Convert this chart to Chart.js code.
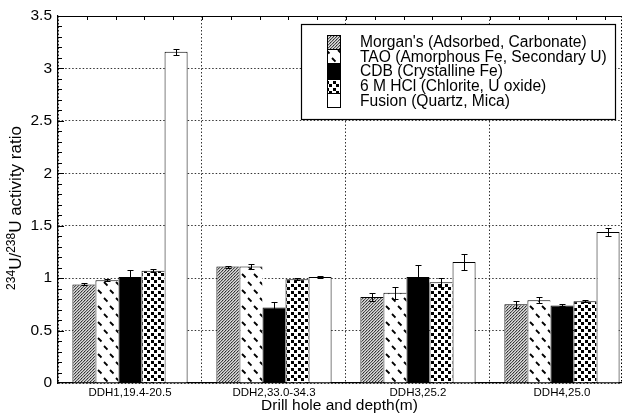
<!DOCTYPE html>
<html>
<head>
<meta charset="utf-8">
<script src="https://cdn.jsdelivr.net/npm/chart.js@4.4.0/dist/chart.umd.min.js"></script>
<style>
  html, body { margin: 0; padding: 0; background: #fff; overflow: hidden; }
  canvas { display: block; }
</style>
</head>
<body>
<canvas id="c" width="628" height="418"></canvas>
<script>
// Drill holes (sample depth range in metres)
const holes = ['DDH1,19.4-20.5', 'DDH2,33.0-34.3', 'DDH3,25.2', 'DDH4,25.0'];

// Sequential extraction steps
const seriesNames = [
  "Morgan's (Adsorbed, Carbonate)",
  'TAO (Amorphous Fe, Secondary U)',
  'CDB (Crystalline Fe)',
  '6 M HCl (Chlorite, U oxide)',
  'Fusion (Quartz, Mica)'
];

// 234U/238U activity ratios and 1-sigma uncertainties, per drill hole
const morgan    = [0.94, 1.11, 0.82, 0.75];
const morganErr = [0.01, 0.01, 0.04, 0.03];
const tao       = [0.98, 1.11, 0.86, 0.79];
const taoErr    = [0.01, 0.025, 0.06, 0.03];
const cdb       = [1.01, 0.72, 1.01, 0.74];
const cdbErr    = [0.065, 0.055, 0.12, 0.01];
const hcl       = [1.07, 0.99, 0.96, 0.78];
const hclErr    = [0.015, 0.01, 0.04, 0.01];
const fusion    = [3.16, 1.01, 1.155, 1.44];
const fusionErr = [0.03, 0.01, 0.075, 0.04];

const yTicks = [0, 0.5, 1, 1.5, 2, 2.5, 3, 3.5];

const FONT = "'Liberation Sans', Arial, Helvetica, sans-serif";
const canvas = document.getElementById('c');
const ctx = canvas.getContext('2d');

// Small repeating fills for the monochrome bars
function makePattern(w, h, paint) {
  const t = document.createElement('canvas');
  t.width = w; t.height = h;
  const g = t.getContext('2d');
  g.fillStyle = '#fff'; g.fillRect(0, 0, w, h);
  g.fillStyle = '#000'; g.strokeStyle = '#000';
  paint(g);
  return ctx.createPattern(t, 'repeat');
}
const stipple = makePattern(3, 3, g => {
  const shades = [
    ['#2e2e2e', '#b0b0b0', '#e0e0e0'],
    ['#a8a8a8', '#e0e0e0', '#4a4a4a'],
    ['#d8d8d8', '#585858', '#b0b0b0']
  ];
  for (let y = 0; y < 3; y++) for (let x = 0; x < 3; x++) {
    g.fillStyle = shades[y][x];
    g.fillRect(x, y, 1, 1);
  }
});
const dashFill = makePattern(12, 16, g => {
  g.lineWidth = 1.8;
  g.beginPath();
  g.moveTo(2, 2); g.lineTo(5.5, 5.5);
  g.moveTo(8, 10); g.lineTo(11.5, 13.5);
  g.stroke();
});
const blockDots = makePattern(7, 7, g => {
  g.fillRect(0, 0, 3, 3);
  g.fillRect(4, 4, 3, 3);
});

const series = [
  { values: morgan, errors: morganErr, fill: stipple },
  { values: tao,    errors: taoErr,    fill: dashFill },
  { values: cdb,    errors: cdbErr,    fill: '#000' },
  { values: hcl,    errors: hclErr,    fill: blockDots },
  { values: fusion, errors: fusionErr, fill: '#fff' }
];

// Frame: solid top edge, dotted right edge, inward minor ticks
const framePlugin = {
  id: 'frame',
  afterDatasetsDraw(chart) {
    const c = chart.ctx, a = chart.chartArea, xs = chart.scales.x, ys = chart.scales.y;
    c.save();
    c.strokeStyle = '#000';
    c.lineWidth = 1.2;
    c.beginPath(); c.moveTo(a.left, a.top + 0.5); c.lineTo(a.right, a.top + 0.5); c.stroke();
    c.setLineDash([1.5, 2]);
    c.lineWidth = 1;
    c.beginPath(); c.moveTo(a.right + 0.5, a.top); c.lineTo(a.right + 0.5, a.bottom); c.stroke();
    c.setLineDash([]);
    c.beginPath();
    for (let k = 1; k * 0.2 < xs.max; k++) {
      const px = Math.round(xs.getPixelForValue(k * 0.2)) + 0.5;
      c.moveTo(px, a.top); c.lineTo(px, a.top + 4);
    }
    for (let k = 1; k < 35; k++) {
      const py = Math.round(ys.getPixelForValue(k / 10)) + 0.5;
      c.moveTo(a.left, py); c.lineTo(a.left + (k % 5 === 0 ? 6 : 4), py);
    }
    c.stroke();
    c.restore();
  }
};

// Uncertainty whiskers on each bar
const errorBars = {
  id: 'errorBars',
  afterDatasetsDraw(chart) {
    const c = chart.ctx, ys = chart.scales.y;
    c.save();
    c.strokeStyle = '#000';
    c.lineWidth = 1;
    chart.data.datasets.forEach((ds, di) => {
      chart.getDatasetMeta(di).data.forEach((bar, i) => {
        const v = ds.data[i].y, e = ds.errors[i];
        const x = Math.round(bar.x) + 0.5;
        const top = Math.round(ys.getPixelForValue(v + e)) + 0.5;
        const bot = Math.round(ys.getPixelForValue(v - e)) + 0.5;
        c.beginPath();
        c.moveTo(x, top); c.lineTo(x, bot);
        c.moveTo(x - 3, top); c.lineTo(x + 3, top);
        c.moveTo(x - 3, bot); c.lineTo(x + 3, bot);
        c.stroke();
      });
    });
    c.restore();
  }
};

// Boxed legend inside the plot, upper right
const boxLegend = {
  id: 'boxLegend',
  afterDraw(chart) {
    const c = chart.ctx;
    const bx = 301.5, by = 24.5, bw = 314, bh = 95;
    c.save();
    c.fillStyle = '#fff';
    c.fillRect(bx, by, bw, bh);
    c.strokeStyle = '#000';
    c.lineWidth = 1.2;
    c.strokeRect(bx, by, bw, bh);
    c.font = '15.6px ' + FONT;
    c.textBaseline = 'middle';
    c.textAlign = 'left';
    chart.data.datasets.forEach((ds, i) => {
      const cy = 42.8 + i * 14.6;
      const iy = Math.round(cy - 8) + 0.5;
      c.fillStyle = ds.backgroundColor;
      c.fillRect(327.5, iy, 13, 14);
      c.lineWidth = 1;
      c.strokeRect(327.5, iy, 13, 14);
      c.fillStyle = '#000';
      c.fillText(ds.label, 360, cy);
    });
    c.restore();
  }
};

// Rotated y-axis title with superscript mass numbers
const yTitle = {
  id: 'yTitle',
  afterDraw(chart) {
    const c = chart.ctx;
    const parts = [
      { t: '234', sup: true }, { t: 'U/' },
      { t: '238', sup: true }, { t: 'U activity ratio' }
    ];
    const mainFont = '17px ' + FONT, supFont = '12px ' + FONT;
    c.save();
    let total = 0;
    parts.forEach(p => { c.font = p.sup ? supFont : mainFont; p.w = c.measureText(p.t).width; total += p.w; });
    c.translate(15, 208);
    c.rotate(-Math.PI / 2);
    c.fillStyle = '#000';
    c.textBaseline = 'alphabetic';
    let x = -total / 2;
    parts.forEach(p => {
      c.font = p.sup ? supFont : mainFont;
      c.fillText(p.t, x, p.sup ? 0 : 6);
      x += p.w;
    });
    c.restore();
  }
};

new Chart(ctx, {
  type: 'bar',
  data: {
    datasets: series.map((s, i) => ({
      label: seriesNames[i],
      data: s.values.map((v, j) => ({ x: j + 0.5, y: v })),
      errors: s.errors,
      backgroundColor: s.fill,
      borderColor: '#000',
      borderWidth: i === series.length - 1
        ? { top: 1, left: 1, right: 1, bottom: 0 }
        : { top: 1, left: 1, right: 0, bottom: 0 },
      categoryPercentage: 0.8,
      barPercentage: 1
    }))
  },
  options: {
    responsive: false,
    animation: false,
    devicePixelRatio: 1,
    layout: { padding: { left: 0, right: 7, top: 16, bottom: 0 } },
    plugins: { legend: { display: false }, tooltip: { enabled: false } },
    scales: {
      x: {
        type: 'linear',
        min: 0,
        max: 3.91,
        offset: false,
        afterBuildTicks: s => { s.ticks = holes.map((_, i) => ({ value: i + 0.5 })); },
        afterFit: s => { s.height = 35; },
        ticks: {
          autoSkip: false, maxRotation: 0, padding: 3, color: '#000',
          font: { family: FONT, size: 11.5 },
          callback: (v, i) => holes[i]
        },
        grid: { offset: true, drawTicks: false, color: '#333', lineWidth: 1 },
        border: { display: true, color: '#000', width: 1.2, dash: [1.5, 2] },
        title: {
          display: true, text: 'Drill hole and depth(m)', color: '#000',
          font: { family: FONT, size: 15.5 }, padding: { top: 0, bottom: 3 }
        }
      },
      y: {
        min: yTicks[0],
        max: yTicks[yTicks.length - 1],
        afterBuildTicks: s => { s.ticks = yTicks.map(v => ({ value: v })); },
        afterFit: s => { s.width = 58; },
        ticks: {
          padding: 6, color: '#000',
          font: { family: FONT, size: 15.5 },
          callback: v => String(v)
        },
        grid: { drawTicks: false, color: '#333', lineWidth: 1 },
        border: { display: true, color: '#000', width: 1.2, dash: [1.5, 2] }
      }
    }
  },
  plugins: [framePlugin, errorBars, boxLegend, yTitle]
});
</script>
</body>
</html>
